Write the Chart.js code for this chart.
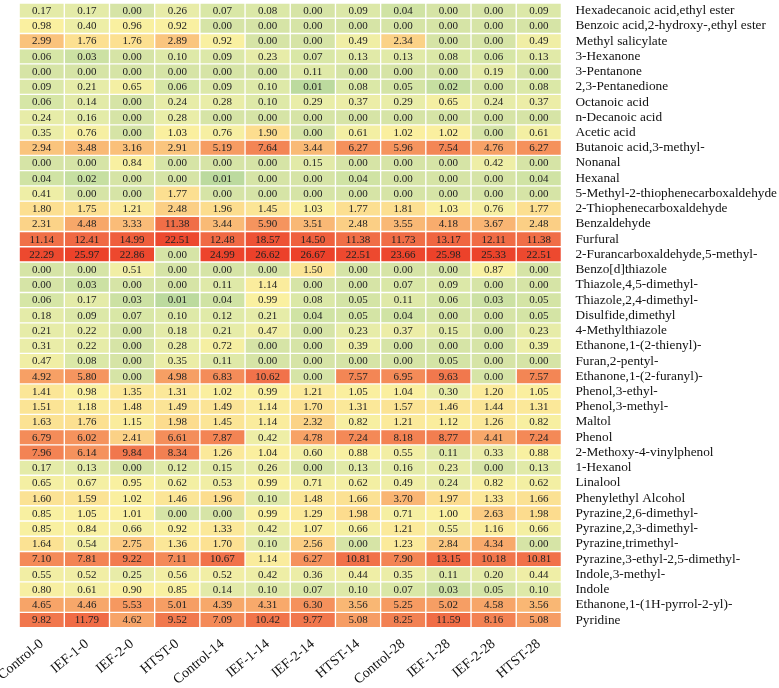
<!DOCTYPE html>
<html>
<head>
<meta charset="utf-8">
<script src="https://cdn.jsdelivr.net/npm/chart.js@4/dist/chart.umd.min.js"></script>
<style>
html, body { margin: 0; padding: 0; background: #fff; }
#wrap { width: 779px; height: 688px; }
</style>
</head>
<body>
<div id="wrap"><canvas id="heat"></canvas></div>
<script>
const samples = ["Control-0", "IEF-1-0", "IEF-2-0", "HTST-0", "Control-14", "IEF-1-14",
  "IEF-2-14", "HTST-14", "Control-28", "IEF-1-28", "IEF-2-28", "HTST-28"];

const compounds = [
  "Hexadecanoic acid,ethyl ester", "Benzoic acid,2-hydroxy-,ethyl ester", "Methyl salicylate",
  "3-Hexanone", "3-Pentanone", "2,3-Pentanedione", "Octanoic acid", "n-Decanoic acid",
  "Acetic acid", "Butanoic acid,3-methyl-", "Nonanal", "Hexanal",
  "5-Methyl-2-thiophenecarboxaldehyde", "2-Thiophenecarboxaldehyde", "Benzaldehyde", "Furfural",
  "2-Furancarboxaldehyde,5-methyl-", "Benzo[d]thiazole", "Thiazole,4,5-dimethyl-",
  "Thiazole,2,4-dimethyl-", "Disulfide,dimethyl", "4-Methylthiazole", "Ethanone,1-(2-thienyl)-",
  "Furan,2-pentyl-", "Ethanone,1-(2-furanyl)-", "Phenol,3-ethyl-", "Phenol,3-methyl-", "Maltol",
  "Phenol", "2-Methoxy-4-vinylphenol", "1-Hexanol", "Linalool", "Phenylethyl Alcohol",
  "Pyrazine,2,6-dimethyl-", "Pyrazine,2,3-dimethyl-", "Pyrazine,trimethyl-",
  "Pyrazine,3-ethyl-2,5-dimethyl-", "Indole,3-methyl-", "Indole", "Ethanone,1-(1H-pyrrol-2-yl)-",
  "Pyridine"
];

// one array per sample, values top to bottom in the order of compounds
const control0 = [0.17,0.98,2.99,0.06,0.00,0.09,0.06,0.24,0.35,2.94,0.00,0.04,0.41,1.80,2.31,11.14,22.29,0.00,0.00,0.06,0.18,0.21,0.31,0.47,4.92,1.41,1.51,1.63,6.79,7.96,0.17,0.65,1.60,0.85,0.85,1.64,7.10,0.55,0.80,4.65,9.82];
const ief1_0 = [0.17,0.40,1.76,0.03,0.00,0.21,0.14,0.16,0.76,3.48,0.00,0.02,0.00,1.75,4.48,12.41,25.97,0.00,0.03,0.17,0.09,0.22,0.22,0.08,5.80,0.98,1.18,1.76,6.02,6.14,0.13,0.67,1.59,1.05,0.84,0.54,7.81,0.52,0.61,4.46,11.79];
const ief2_0 = [0.00,0.96,1.76,0.00,0.00,0.65,0.00,0.00,0.00,3.16,0.84,0.00,0.00,1.21,3.33,14.99,22.86,0.51,0.00,0.03,0.07,0.00,0.00,0.00,0.00,1.35,1.48,1.15,2.41,9.84,0.00,0.95,1.02,1.01,0.66,2.75,9.22,0.25,0.90,5.53,4.62];
const htst0 = [0.26,0.92,2.89,0.10,0.00,0.06,0.24,0.28,1.03,2.91,0.00,0.00,1.77,2.48,11.38,22.51,0.00,0.00,0.00,0.01,0.10,0.18,0.28,0.35,4.98,1.31,1.49,1.98,6.61,8.34,0.12,0.62,1.46,0.00,0.92,1.36,7.11,0.56,0.85,5.01,9.52];
const control14 = [0.07,0.00,0.92,0.09,0.00,0.09,0.28,0.00,0.76,5.19,0.00,0.01,0.00,1.96,3.44,12.48,24.99,0.00,0.11,0.04,0.12,0.21,0.72,0.11,6.83,1.02,1.49,1.45,7.87,1.26,0.15,0.53,1.96,0.00,1.33,1.70,10.67,0.52,0.14,4.39,7.09];
const ief1_14 = [0.08,0.00,0.00,0.23,0.00,0.10,0.10,0.00,1.90,7.64,0.00,0.00,0.00,1.45,5.90,18.57,26.62,0.00,1.14,0.99,0.21,0.47,0.00,0.00,10.62,0.99,1.14,1.14,0.42,1.04,0.26,0.99,0.10,0.99,0.42,0.10,1.14,0.42,0.10,4.31,10.42];
const ief2_14 = [0.00,0.00,0.00,0.07,0.11,0.01,0.29,0.00,0.00,3.44,0.15,0.00,0.00,1.03,3.51,14.50,26.67,1.50,0.00,0.08,0.04,0.00,0.00,0.00,0.00,1.21,1.70,2.32,4.78,0.60,0.00,0.71,1.48,1.29,1.07,2.56,6.27,0.36,0.07,6.30,9.77];
const htst14 = [0.09,0.00,0.49,0.13,0.00,0.08,0.37,0.00,0.61,6.27,0.00,0.04,0.00,1.77,2.48,11.38,22.51,0.00,0.00,0.05,0.05,0.23,0.39,0.00,7.57,1.05,1.31,0.82,7.24,0.88,0.13,0.62,1.66,1.98,0.66,0.00,10.81,0.44,0.10,3.56,5.08];
const control28 = [0.04,0.00,2.34,0.13,0.00,0.05,0.29,0.00,1.02,5.96,0.00,0.00,0.00,1.81,3.55,11.73,23.66,0.00,0.07,0.11,0.04,0.37,0.00,0.00,6.95,1.04,1.57,1.21,8.18,0.55,0.16,0.49,3.70,0.71,1.21,1.23,7.90,0.35,0.07,5.25,8.25];
const ief1_28 = [0.00,0.00,0.00,0.08,0.00,0.02,0.65,0.00,1.02,7.54,0.00,0.00,0.00,1.03,4.18,13.17,25.98,0.00,0.09,0.06,0.00,0.15,0.00,0.05,9.63,0.30,1.46,1.12,8.77,0.11,0.23,0.24,1.97,1.00,0.55,2.84,13.15,0.11,0.03,5.02,11.59];
const ief2_28 = [0.00,0.00,0.00,0.06,0.19,0.00,0.24,0.00,0.00,4.76,0.42,0.00,0.00,0.76,3.67,12.11,25.33,0.87,0.00,0.03,0.00,0.00,0.00,0.00,0.00,1.20,1.44,1.26,4.41,0.33,0.00,0.82,1.33,2.63,1.16,4.34,10.18,0.20,0.05,4.58,8.16];
const htst28 = [0.09,0.00,0.49,0.13,0.00,0.08,0.37,0.00,0.61,6.27,0.00,0.04,0.00,1.77,2.48,11.38,22.51,0.00,0.00,0.05,0.05,0.23,0.39,0.00,7.57,1.05,1.31,0.82,7.24,0.88,0.13,0.62,1.66,1.98,0.66,0.00,10.81,0.44,0.10,3.56,5.08];

const columns = [control0, ief1_0, ief2_0, htst0, control14, ief1_14,
  ief2_14, htst14, control28, ief1_28, ief2_28, htst28];

// colour stops on log10(value); zero gets its own pale green
const zeroColor = [214, 228, 166];
const stops = [
  [-2.0, [188, 218, 158]],
  [-1.0, [222, 233, 168]],
  [-0.5, [234, 237, 168]],
  [0.0, [250, 240, 160]],
  [0.3, [252, 220, 142]],
  [0.5, [250, 192, 122]],
  [0.72, [246, 155, 98]],
  [1.0, [241, 118, 76]],
  [1.25, [238, 84, 54]],
  [1.45, [236, 62, 40]],
];

function cellColor(v) {
  if (v <= 0) return `rgb(${zeroColor.join(",")})`;
  const t = Math.log10(v);
  let c = stops[stops.length - 1][1];
  if (t <= stops[0][0]) c = stops[0][1];
  for (let i = 0; i < stops.length - 1; i++) {
    const [a, ca] = stops[i];
    const [b, cb] = stops[i + 1];
    if (t >= a && t <= b) {
      const f = (t - a) / (b - a);
      c = ca.map((x, k) => Math.round(x + (cb[k] - x) * f));
      break;
    }
  }
  return `rgb(${c.join(",")})`;
}

const datasets = compounds.map((name, r) => ({
  label: name,
  data: samples.map(() => [r, r + 1]),
  values: columns.map((col) => col[r]),
  backgroundColor: columns.map((col) => cellColor(col[r])),
  borderColor: "#ffffff",
  borderWidth: 1,
  borderSkipped: false,
  grouped: false,
  barPercentage: 1,
  categoryPercentage: 1,
}));

const cellText = {
  id: "cellText",
  afterDatasetsDraw(chart) {
    const ctx = chart.ctx;
    ctx.save();
    ctx.font = "11px 'Liberation Serif'";
    ctx.fillStyle = "#222";
    ctx.textAlign = "center";
    ctx.textBaseline = "middle";
    chart.data.datasets.forEach((ds, i) => {
      chart.getDatasetMeta(i).data.forEach((bar, j) => {
        ctx.fillText(ds.values[j].toFixed(2), bar.x, (bar.y + bar.base) / 2 + 0.5);
      });
    });
    ctx.restore();
  },
};

new Chart(document.getElementById("heat"), {
  type: "bar",
  data: { labels: samples, datasets: datasets },
  options: {
    responsive: true,
    maintainAspectRatio: false,
    animation: false,
    layout: { padding: { left: 0, top: 3, right: 2, bottom: 0 } },
    plugins: { legend: { display: false }, tooltip: { enabled: false } },
    scales: {
      x: {
        type: "category",
        grid: { display: false },
        border: { display: false },
        ticks: {
          maxRotation: 40,
          minRotation: 40,
          padding: 0,
          color: "#111",
          font: { family: "'Liberation Serif'", size: 14 },
        },
      },
      y: {
        type: "linear",
        position: "right",
        reverse: true,
        min: 0,
        max: compounds.length,
        afterBuildTicks: (scale) => {
          scale.ticks = compounds.map((_, i) => ({ value: i + 0.5 }));
        },
        afterFit: (scale) => {
          scale.paddingTop = 0;
          scale.paddingBottom = 0;
        },
        grid: { display: false, drawTicks: true, tickLength: 14 },
        border: { display: false },
        ticks: {
          autoSkip: false,
          padding: 0,
          color: "#111",
          font: { family: "'Liberation Serif'", size: 13.3 },
          callback: (value) => compounds[Math.floor(value)],
        },
      },
    },
  },
  plugins: [cellText],
});
</script>
</body>
</html>
